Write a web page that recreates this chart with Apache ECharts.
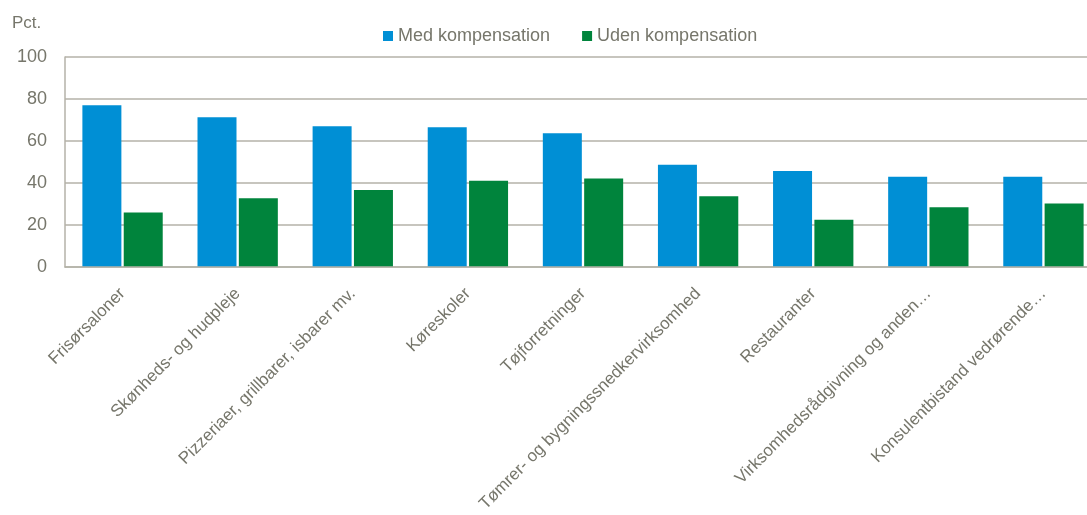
<!DOCTYPE html>
<html><head><meta charset="utf-8">
<script src="https://cdn.jsdelivr.net/npm/echarts@6/dist/echarts.min.js"></script>
<style>html,body{margin:0;padding:0;background:#fff;overflow:hidden;width:1087px;height:515px}#c{width:1101px;height:515px}</style>
</head><body><div id="c"></div>
<script>
const categories = ["Frisørsaloner","Skønheds- og hudpleje","Pizzeriaer, grillbarer, isbarer mv.","Køreskoler","Tøjforretninger","Tømrer- og bygningssnedkervirksomhed","Restauranter","Virksomhedsrådgivning og anden…","Konsulentbistand vedrørende…"];
const medKompensation = [77, 71.3, 67, 66.5, 63.7, 48.7, 45.7, 43, 43];
const udenKompensation = [26, 32.7, 36.7, 41.1, 42.2, 33.7, 22.5, 28.4, 30.2];
const seriesNames = ["Med kompensation","Uden kompensation"];
const yTicks = [0, 20, 40, 60, 80, 100];
const yUnit = "Pct.";

const textColor = '#76766b';
const gridColor = '#b4b2a8';
const font = 'Liberation Sans, Arial, sans-serif';
const chart = echarts.init(document.getElementById('c'));
chart.setOption({
  animation: false,
  textStyle: {fontFamily: font},
  title: {text: yUnit, left: 7, top: 10, textStyle: {color: textColor, fontSize: 17, fontWeight: 'normal', fontFamily: font}},
  legend: {
    top: 22, left: 378,
    itemWidth: 10, itemHeight: 10, itemGap: 32,
    icon: 'rect',
    textStyle: {color: textColor, fontSize: 18, fontFamily: font},
    data: seriesNames
  },
  grid: {left: 65, right: 0, top: 57, bottom: 248, containLabel: false},
  xAxis: {
    type: 'category', data: categories, z: 5,
    axisLine: {show: true, lineStyle: {color: gridColor, width: 1.5}},
    axisTick: {show: false},
    axisLabel: {rotate: 45, color: textColor, fontSize: 17, fontFamily: font, interval: 0, margin: 24}
  },
  yAxis: {
    type: 'value', min: yTicks[0], max: yTicks[yTicks.length-1], interval: 20,
    axisLine: {show: true, lineStyle: {color: gridColor, width: 1.5}},
    axisTick: {show: false},
    axisLabel: {color: textColor, fontSize: 18, fontFamily: font, margin: 18},
    splitLine: {show: true, lineStyle: {color: gridColor, width: 1.5}}
  },
  series: [
    {name: seriesNames[0], type: 'bar', data: medKompensation, barWidth: 39, barGap: '6%',
     itemStyle: {color: '#008fd5'}},
    {name: seriesNames[1], type: 'bar', data: udenKompensation, barWidth: 39, barGap: '6%',
     itemStyle: {color: '#00843c'}}
  ]
});
</script></body></html>
